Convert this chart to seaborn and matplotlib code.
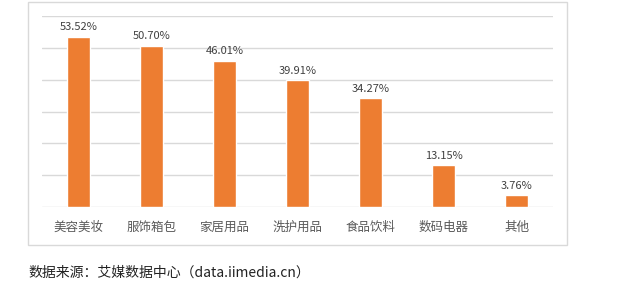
import matplotlib
matplotlib.use("Agg")
import matplotlib.pyplot as plt
import seaborn as sns
import pandas as pd
from matplotlib.patches import Rectangle

categories = ["美容美妆", "服饰箱包", "家居用品", "洗护用品", "食品饮料", "数码电器", "其他"]
values = [53.52, 50.70, 46.01, 39.91, 34.27, 13.15, 3.76]
source_text = "数据来源：艾媒数据中心（data.iimedia.cn）"

sns.set_theme(style="white")
plt.rcParams['font.family'] = ['Noto Sans CJK SC', 'DejaVu Sans']

W, H = 640, 289
fig = plt.figure(figsize=(W / 100, H / 100), dpi=100)
fig.patch.set_facecolor("white")

# outer chart border
fig.patches.append(Rectangle((28 / W, 1 - 245 / H), (567 - 28) / W, (245 - 2) / H,
                             transform=fig.transFigure, fill=False,
                             edgecolor="#D9D9D9", linewidth=1.0))

ax = fig.add_axes([42 / W, 1 - 207 / H, (553 - 42) / W, (207 - 16) / H])
df = pd.DataFrame({"cat": categories, "val": values})
sns.barplot(data=df, x="cat", y="val", color="#ED7D31", width=0.31,
            saturation=1, ax=ax, zorder=3)

ax.set_ylim(0, 60)
ax.set_yticks(range(0, 61, 10))
ax.yaxis.grid(True, color="#D9D9D9", linewidth=1.0, zorder=0)
ax.set_axisbelow(True)
ax.set_xlim(-0.5, len(categories) - 0.5)
for s in ax.spines.values():
    s.set_visible(False)
ax.tick_params(axis="y", left=False, labelleft=False)
ax.tick_params(axis="x", bottom=False, labelsize=9, colors="#595959", pad=4)
ax.set_xlabel("")
ax.set_ylabel("")

for c in ax.containers:
    ax.bar_label(c, labels=[f"{v:.2f}%" for v in values], padding=3,
                 fontsize=8, color="#404040")

fig.text(28 / W, 1 - 273 / H, source_text, fontsize=10, color="#222222",
         va="center", ha="left")

fig.savefig("out.png", dpi=100, facecolor="white")
